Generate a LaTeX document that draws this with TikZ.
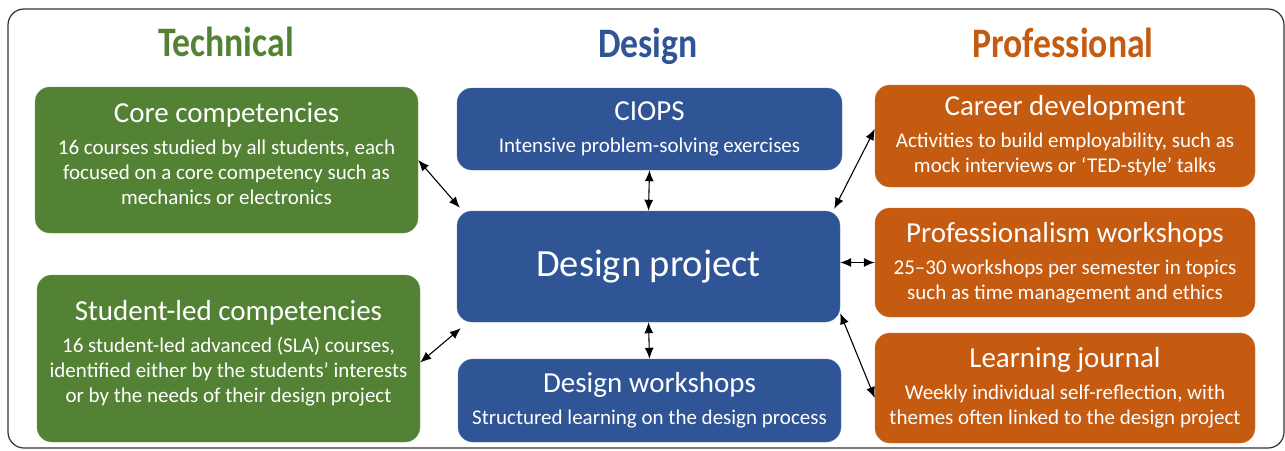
\documentclass[tikz,border=0pt]{standalone}
\usepackage{fontspec}
\setmainfont{Carlito}
\newfontfamily\headfont[FakeStretch=0.85]{Carlito}
\usetikzlibrary{arrows.meta}

\definecolor{techgreen}{HTML}{548235}
\definecolor{desblue}{HTML}{2F5597}
\definecolor{profred}{HTML}{C55A11}

\tikzset{
  box/.style={rectangle, rounded corners=15pt, text=white, align=center, inner sep=0pt,
    font=\fontsize{21}{25}\selectfont},
  techbox/.style={box, fill=techgreen, draw=techgreen!80!white},
  desbox/.style={box, fill=desblue, draw=desblue!80!white},
  profbox/.style={box, fill=profred, draw=profred!80!white},
  colhead/.style={anchor=base, font=\headfont\bfseries\fontsize{42}{46}\selectfont},
  link/.style={{Latex[length=11pt,width=9pt]}-{Latex[length=11pt,width=9pt]}, line width=1.1pt, black}
}
\newcommand{\boxtitle}[1]{{\fontsize{29}{33}\selectfont #1}\\[7pt]}

\begin{document}
\begin{tikzpicture}[x=1pt, y=-1pt]

\useasboundingbox (0,0) rectangle (1285,450);
\draw[rounded corners=16pt, line width=1.2pt, black!80] (8,9) rectangle (1284,448);

\node (tech) at (226, 56) [colhead, text=techgreen] {Technical};
\node (design) at (648, 57) [colhead, text=desblue] {Design};
\node (prof) at (1063, 57) [colhead, text=profred] {Professional};

% technical column
\node (core) at (226.5, 160) [techbox, minimum width=383pt, minimum height=146pt] {};
\node (core-txt) at ([yshift=6pt]core.center) [box]
  {\boxtitle{Core competencies}16 courses studied by all students, each\\ focused on a core competency such as\\ mechanics or electronics};
\node (student) at (228.5, 358.5) [techbox, minimum width=383pt, minimum height=167pt] {};
\node (student-txt) at ([yshift=5pt]student.center) [box]
  {\boxtitle{Student-led competencies}16 student-led advanced (SLA) courses,\\ identified either by the students' interests\\ or by the needs of their design project};

% design column
\node (ciops) at (649.5, 129) [desbox, minimum width=385pt, minimum height=82pt]
  {\boxtitle{CIOPS}Intensive problem-solving exercises};
\node (project) at (648.5, 266.5) [desbox, minimum width=383pt, minimum height=111pt, font=\fontsize{38.5}{42}\selectfont]
  {Design project};
\node (dwork) at (649.5, 400.5) [desbox, minimum width=383pt, minimum height=83pt]
  {\boxtitle{Design workshops}Structured learning on the design process};

% professional column
\node (career) at (1065, 136) [profbox, minimum width=380pt, minimum height=102pt]
  {\boxtitle{Career development}Activities to build employability, such as\\ mock interviews or `TED-style' talks};
\node (pwork) at (1065, 262.5) [profbox, minimum width=380pt, minimum height=109pt]
  {\boxtitle{Professionalism workshops}25--30 workshops per semester in topics\\ such as time management and ethics};
\node (journal) at (1065, 388) [profbox, minimum width=380pt, minimum height=110pt]
  {\boxtitle{Learning journal}Weekly individual self-reflection, with\\ themes often linked to the design project};

\draw[link] (core.east) -- ([shift={(3,-3)}]project.north west);
\draw[link] ([yshift=-4]student.east) -- ([shift={(4,6)}]project.south west);
\draw[link] (ciops.south) -- (project.north);
\draw[link] (project.south) -- (dwork.north);
\draw[link] ([yshift=7]career.west) -- ([shift={(-6,-2)}]project.north east);
\draw[link] (pwork.west) -- (pwork.west -| project.east);
\draw[link] ([shift={(0,-9)}]project.south east) -- ([yshift=-10]journal.west);

\end{tikzpicture}
\end{document}
